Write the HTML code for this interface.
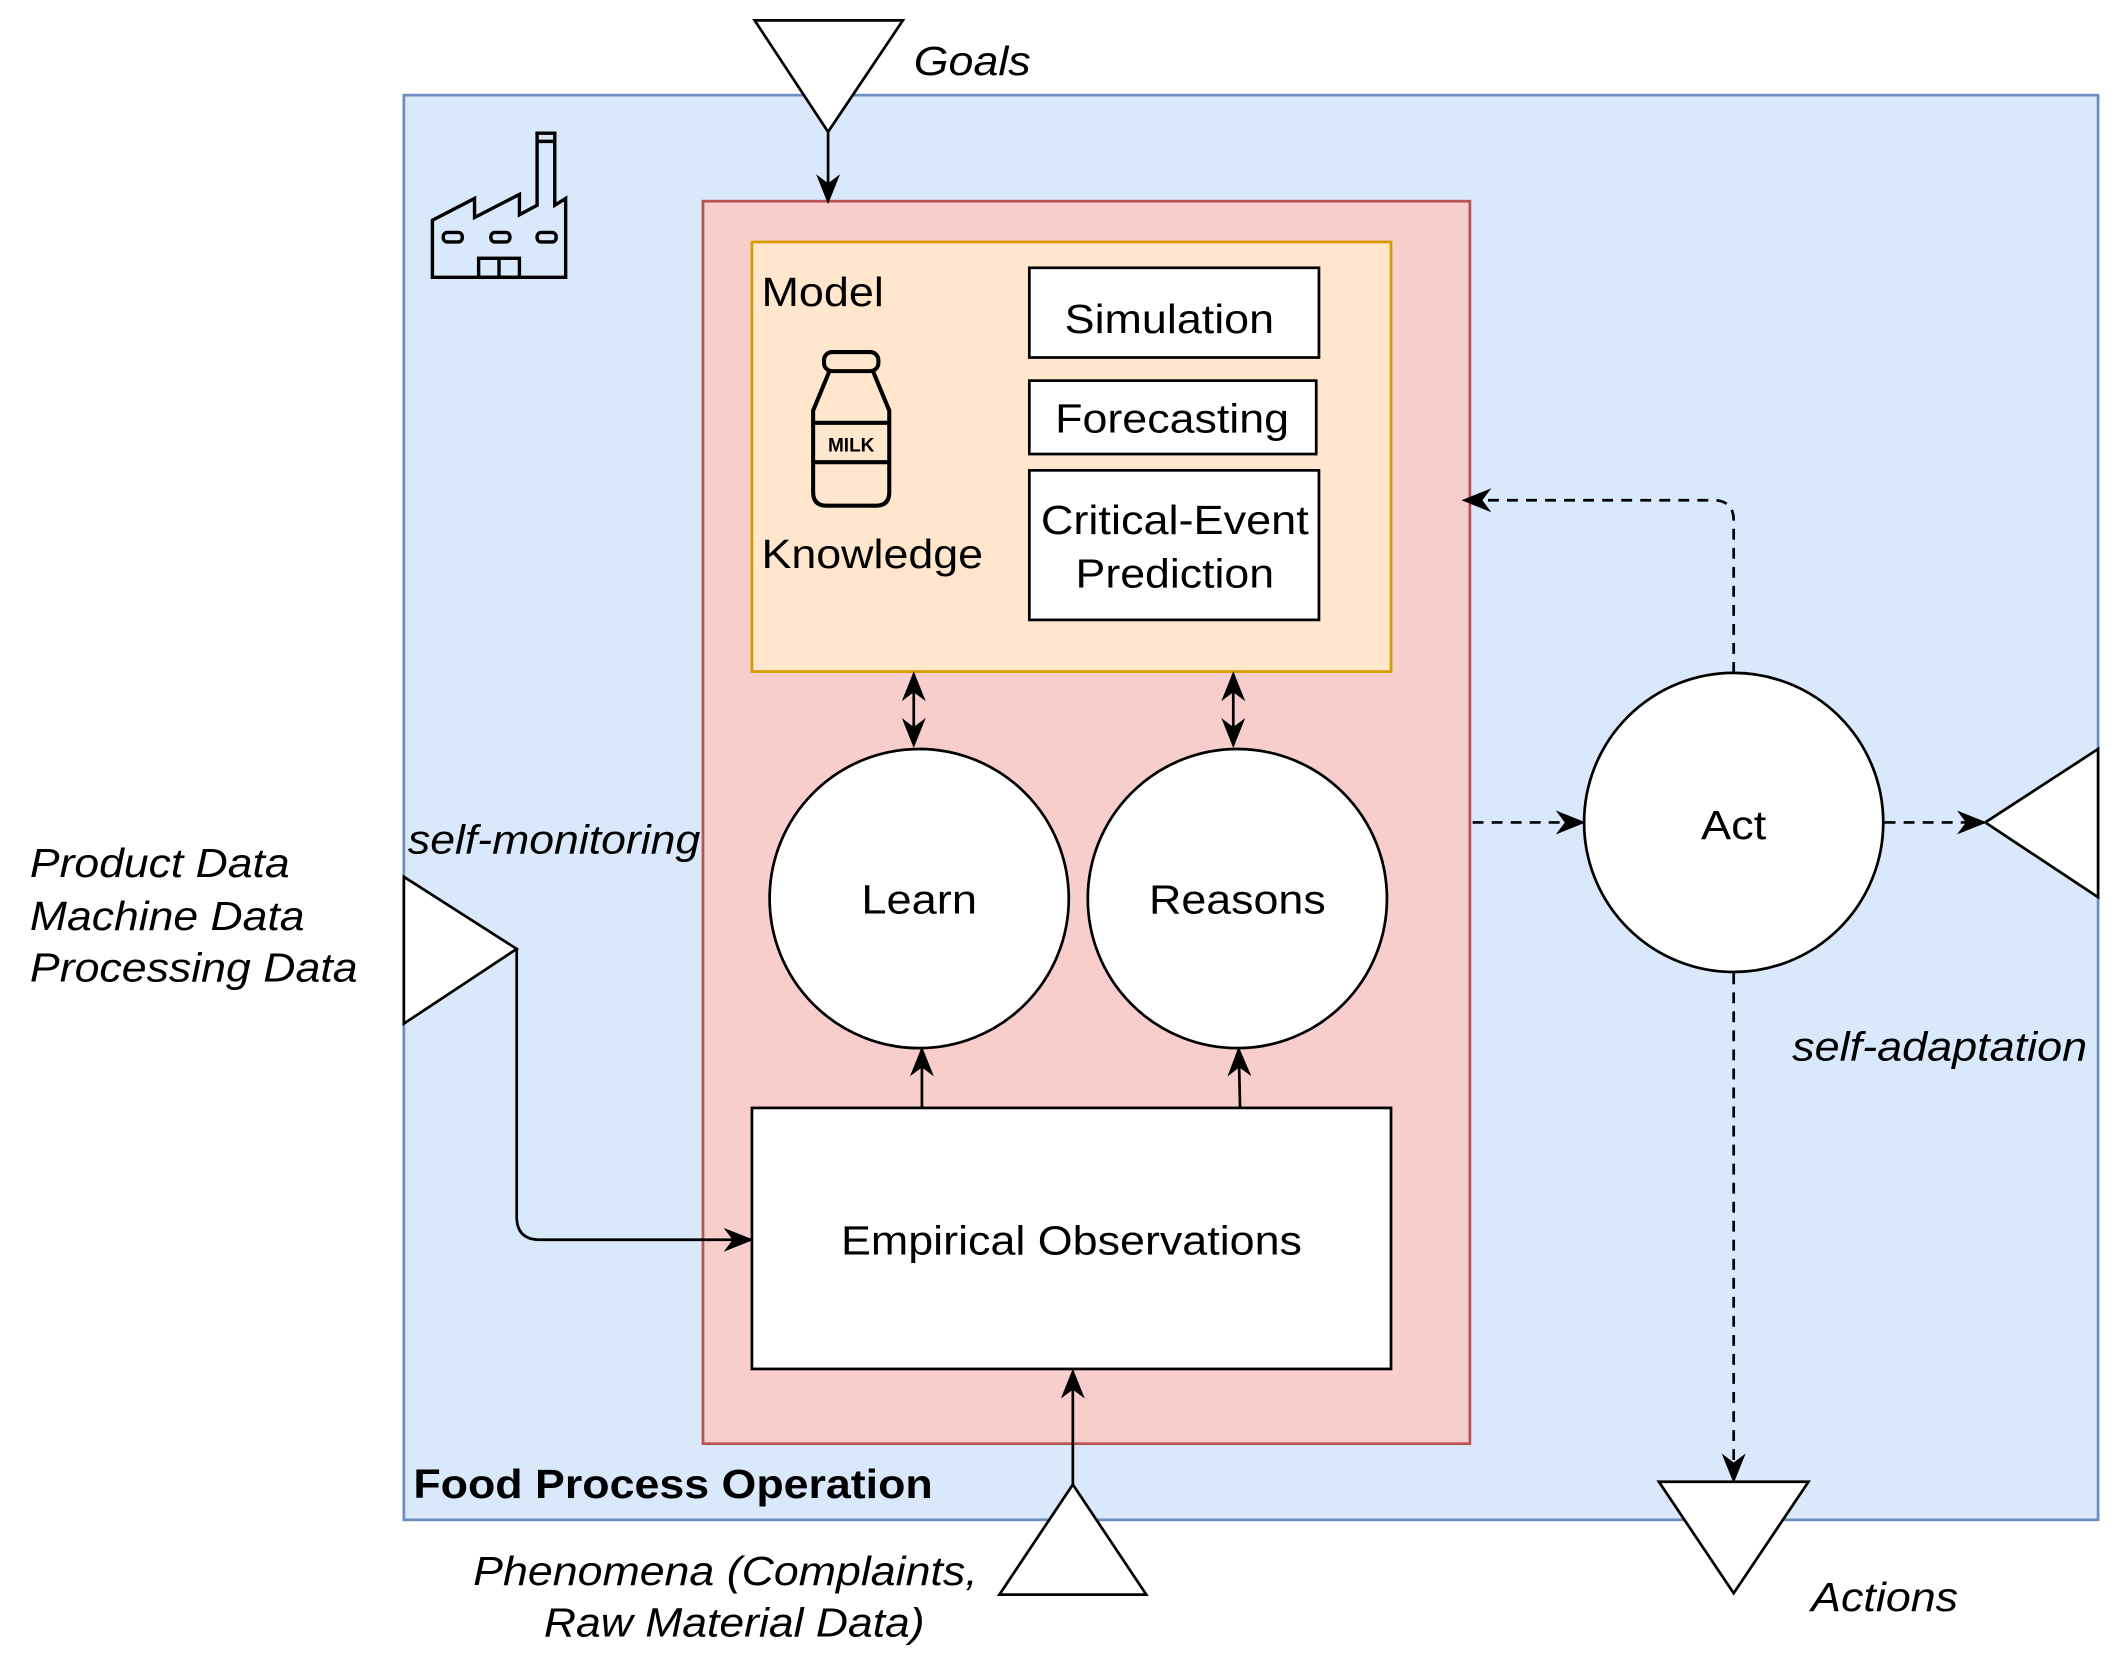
<!DOCTYPE html>
<html><head><meta charset="utf-8"><style>html,body{margin:0;padding:0;background:#fff}svg{display:block}text{font-family:"Liberation Sans",Arial,sans-serif;fill:#000}</style></head><body>
<svg width="2128" height="1668" viewBox="0 0 1565 1227" preserveAspectRatio="none" xmlns="http://www.w3.org/2000/svg">
<defs>
<marker id="a" viewBox="0 0 10 10" refX="9" refY="5" markerWidth="7" markerHeight="7" orient="auto-start-reverse" markerUnits="userSpaceOnUse"><path d="M0,0 L10,5 L0,10 L3,5 z" fill="#000"/></marker>
<marker id="b" viewBox="0 0 10 10" refX="9" refY="5" markerWidth="22" markerHeight="22" orient="auto-start-reverse" markerUnits="userSpaceOnUse"><path d="M0,1 L10,5 L0,9 L3,5 z" fill="#000"/></marker>
</defs>
<rect x="297" y="70" width="1246" height="1048" fill="#dae8fc" stroke="#6c8ebf" stroke-width="2"/>
<rect x="517" y="148" width="564" height="914" fill="#f8cecc" stroke="#b85450" stroke-width="2"/>
<rect x="553" y="178" width="470" height="316" fill="#ffe6cc" stroke="#d79b00" stroke-width="2"/>
<g fill="#fff" stroke="#000" stroke-width="2">
<rect x="757" y="197" width="213" height="66"/>
<rect x="757" y="280" width="211" height="54"/>
<rect x="757" y="346" width="213" height="110"/>
<rect x="553" y="815" width="470" height="192"/>
<circle cx="676" cy="661" r="110"/>
<circle cx="910" cy="661" r="110"/>
<circle cx="1275" cy="605" r="110"/>
<path d="M555,15 L664,15 L609,97 z"/>
<path d="M297,645 L380,698 L297,753 z"/>
<path d="M789,1092 L843,1173 L735,1173 z"/>
<path d="M1220,1090 L1330,1090 L1275,1172 z"/>
<path d="M1543,551 L1460,605 L1543,660 z"/>
</g>
<!-- factory -->
<g fill="none" stroke="#000" stroke-width="2.5" stroke-linejoin="miter">
<path d="M318,204 L318,162 L349,146 L349,160 L382,143 L382,158 L395,151 L395,98 L408,98 L408,151 L416,146 L416,204 z"/>
<line x1="395" y1="104" x2="408" y2="104"/>
<rect x="326" y="171" width="14" height="7" rx="3"/>
<rect x="361" y="171" width="14" height="7" rx="3"/>
<rect x="395" y="171" width="14" height="7" rx="3"/>
<rect x="352" y="190" width="30" height="14"/>
<line x1="367" y1="190" x2="367" y2="204"/>
</g>
<!-- milk bottle -->
<g fill="none" stroke="#000" stroke-width="3">
<rect x="606" y="259" width="40" height="14" rx="6"/>
<path d="M610,273 L598,302 L598,362 Q598,372 608,372 L644,372 Q654,372 654,362 L654,302 L642,273"/>
<line x1="598" y1="311" x2="654" y2="311"/>
<line x1="598" y1="340" x2="654" y2="340"/>
</g>
<text x="626" y="332" font-size="14" font-weight="bold" text-anchor="middle">MILK</text>
<!-- connectors -->
<g fill="none" stroke="#000" stroke-width="2">
<line x1="609" y1="97" x2="609" y2="148" marker-end="url(#b)"/>
<line x1="672" y1="496" x2="672" y2="548" marker-start="url(#b)" marker-end="url(#b)"/>
<line x1="907" y1="496" x2="907" y2="548" marker-start="url(#b)" marker-end="url(#b)"/>
<line x1="678" y1="815" x2="678" y2="772" marker-end="url(#b)"/>
<line x1="912" y1="815" x2="911" y2="772" marker-end="url(#b)"/>
<line x1="789" y1="1092" x2="789" y2="1009" marker-end="url(#b)"/>
<path d="M380,698 L380,895 Q380,912 397,912 L552,912" marker-end="url(#b)"/>
</g>
<g fill="none" stroke="#000" stroke-width="2" stroke-dasharray="8,6">
<line x1="1083" y1="605" x2="1164" y2="605" marker-end="url(#b)"/>
<line x1="1386" y1="605" x2="1459" y2="605" marker-end="url(#b)"/>
<path d="M1275,495 L1275,383 Q1275,368 1260,368 L1077,368" marker-end="url(#b)"/>
<line x1="1275" y1="716" x2="1275" y2="1089" marker-end="url(#b)"/>
</g>
<!-- text -->
<g font-size="30">
<text x="560" y="225" textLength="90" lengthAdjust="spacingAndGlyphs">Model</text>
<text x="560" y="418" textLength="163" lengthAdjust="spacingAndGlyphs">Knowledge</text>
<text x="860" y="245" text-anchor="middle" textLength="154" lengthAdjust="spacingAndGlyphs">Simulation</text>
<text x="862" y="318" text-anchor="middle" textLength="172" lengthAdjust="spacingAndGlyphs">Forecasting</text>
<text x="864" y="393" text-anchor="middle" textLength="197" lengthAdjust="spacingAndGlyphs">Critical-Event</text>
<text x="864" y="432" text-anchor="middle" textLength="146" lengthAdjust="spacingAndGlyphs">Prediction</text>
<text x="676" y="672" text-anchor="middle" textLength="85" lengthAdjust="spacingAndGlyphs">Learn</text>
<text x="910" y="672" text-anchor="middle" textLength="130" lengthAdjust="spacingAndGlyphs">Reasons</text>
<text x="1275" y="617" text-anchor="middle" textLength="48" lengthAdjust="spacingAndGlyphs">Act</text>
<text x="788" y="923" text-anchor="middle" textLength="339" lengthAdjust="spacingAndGlyphs">Empirical Observations</text>
<text x="304" y="1102" font-weight="bold" textLength="382" lengthAdjust="spacingAndGlyphs">Food Process Operation</text>
</g>
<g font-size="30" font-style="italic">
<text x="672" y="55" textLength="86" lengthAdjust="spacingAndGlyphs">Goals</text>
<text x="300" y="628" textLength="215" lengthAdjust="spacingAndGlyphs">self-monitoring</text>
<text x="22" y="645" textLength="191" lengthAdjust="spacingAndGlyphs">Product Data</text>
<text x="22" y="684" textLength="202" lengthAdjust="spacingAndGlyphs">Machine Data</text>
<text x="22" y="722" textLength="241" lengthAdjust="spacingAndGlyphs">Processing Data</text>
<text x="1318" y="780" textLength="217" lengthAdjust="spacingAndGlyphs">self-adaptation</text>
<text x="348" y="1166" textLength="371" lengthAdjust="spacingAndGlyphs">Phenomena (Complaints,</text>
<text x="400" y="1204" textLength="280" lengthAdjust="spacingAndGlyphs">Raw Material Data)</text>
<text x="1332" y="1185" textLength="108" lengthAdjust="spacingAndGlyphs">Actions</text>
</g>
</svg>
</body></html>
